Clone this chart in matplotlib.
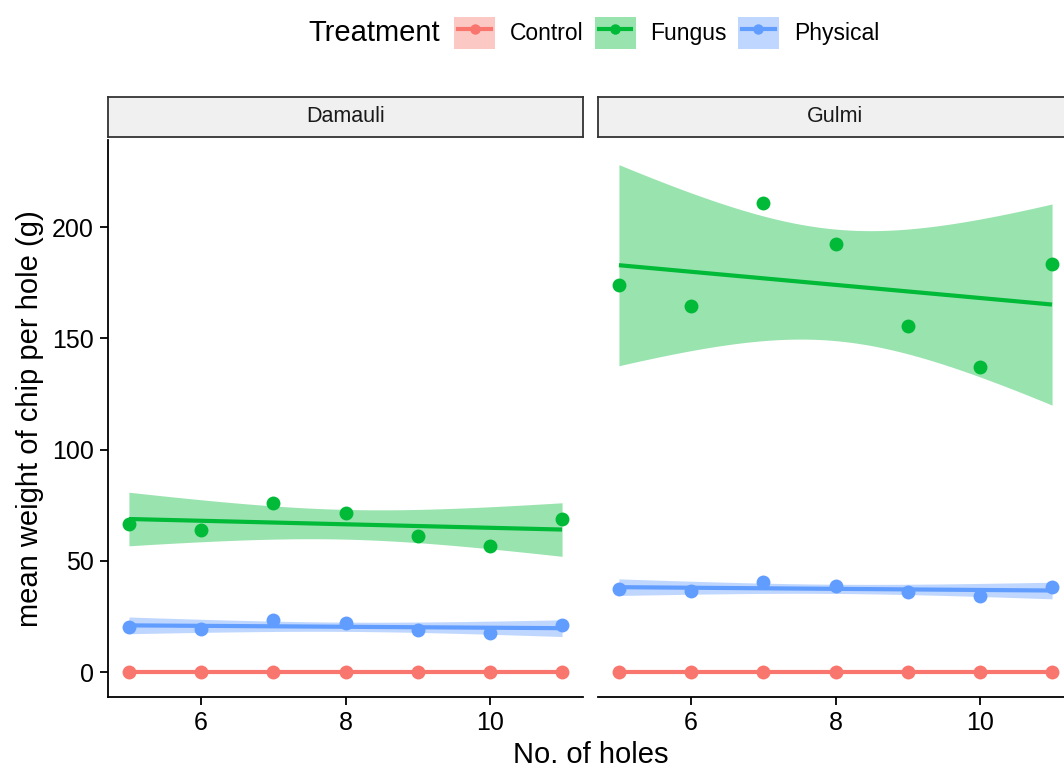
import numpy as np
import matplotlib
matplotlib.use("Agg")
import matplotlib.pyplot as plt
from matplotlib.patches import Patch
from matplotlib.lines import Line2D
from matplotlib.legend_handler import HandlerTuple, HandlerLine2D

plt.rcParams['font.family'] = ['Liberation Sans', 'DejaVu Sans']

# ---- data ----
holes = [5, 6, 7, 8, 9, 10, 11]
sites = ["Damauli", "Gulmi"]
treatments = ["Control", "Fungus", "Physical"]
colors = {"Control": "#F8766D", "Fungus": "#00BA38", "Physical": "#619CFF"}

damauli_control = [0, 0, 0, 0, 0, 0, 0]
damauli_fungus = [66.5, 63.9, 76.2, 71.4, 61.3, 56.7, 68.9]
damauli_physical = [20.4, 19.3, 23.4, 21.9, 18.9, 17.4, 21.2]

gulmi_control = [0, 0, 0, 0, 0, 0, 0]
gulmi_fungus = [173.9, 164.7, 210.9, 192.5, 155.7, 137.1, 183.2]
gulmi_physical = [37.4, 36.6, 40.6, 38.8, 35.9, 34.4, 38.1]

data = {
    "Damauli": {"Control": damauli_control, "Fungus": damauli_fungus, "Physical": damauli_physical},
    "Gulmi": {"Control": gulmi_control, "Fungus": gulmi_fungus, "Physical": gulmi_physical},
}

x_ticks = [6, 8, 10]
y_ticks = [0, 50, 100, 150, 200]
T975_DF5 = 2.570582  # t quantile, 95% CI, n-2 = 5 df


def lm_fit(x, y):
    x = np.asarray(x, float)
    y = np.asarray(y, float)
    n = len(x)
    b, a = np.polyfit(x, y, 1)
    resid = y - (a + b * x)
    s = np.sqrt(np.sum(resid ** 2) / (n - 2))
    xs = np.linspace(x.min(), x.max(), 80)
    fit = a + b * xs
    sxx = np.sum((x - x.mean()) ** 2)
    se = s * np.sqrt(1.0 / n + (xs - x.mean()) ** 2 / sxx)
    return xs, fit, fit - T975_DF5 * se, fit + T975_DF5 * se


class InsetLine(HandlerLine2D):
    def create_artists(self, legend, orig_handle, xdescent, ydescent, width, height,
                       fontsize, trans):
        inset = width * 0.1
        return super().create_artists(legend, orig_handle, xdescent - inset, ydescent,
                                      width - 2 * inset, height, fontsize, trans)


W, H = 1064, 767
fig = plt.figure(figsize=(W / 100, H / 100), dpi=100)

panel_top, panel_bot = 140, 697
panel_lefts = [108, 598]
panel_w = 475
ylim = (-11.2, 239.1)
xlim = (4.71, 11.29)
LW = 3.0

for i, site in enumerate(sites):
    l = panel_lefts[i]
    ax = fig.add_axes([l / W, (H - panel_bot) / H, panel_w / W, (panel_bot - panel_top) / H])
    for t in treatments:
        y = data[site][t]
        c = colors[t]
        xs, fit, lo, hi = lm_fit(holes, y)
        ax.fill_between(xs, lo, hi, color=c, alpha=0.4, lw=0, zorder=1)
        ax.plot(xs, fit, color=c, lw=LW, zorder=2, solid_capstyle='butt')
        ax.plot(holes, y, 'o', color=c, ms=10, mew=0, zorder=3)
    ax.set_xlim(*xlim)
    ax.set_ylim(*ylim)
    ax.set_xticks(x_ticks)
    ax.set_yticks(y_ticks)
    for sp in ["top", "right"]:
        ax.spines[sp].set_visible(False)
    ax.spines["bottom"].set_linewidth(1.3)
    ax.spines["left"].set_linewidth(1.3)
    ax.tick_params(axis='both', direction='out', length=6, width=1.3, colors='black',
                   labelsize=18, pad=4)
    if i == 1:
        ax.spines["left"].set_visible(False)
        ax.tick_params(axis='y', left=False, labelleft=False)
    else:
        ax.set_ylabel("mean weight of chip per hole (g)", fontsize=21, labelpad=6)
    # strip
    strip_top, strip_bot = 97, 137
    sax = fig.add_axes([l / W, (H - strip_bot) / H, panel_w / W, (strip_bot - strip_top) / H])
    sax.set_xticks([])
    sax.set_yticks([])
    sax.set_facecolor("#F0F0F0")
    for sp in sax.spines.values():
        sp.set_linewidth(1.3)
        sp.set_color("#333333")
    sax.text(0.5, 0.5, site, ha='center', va='center', fontsize=15.5, color='#1A1A1A',
             transform=sax.transAxes)

fig.text(591 / W, 1 - 755 / H, "No. of holes", ha='center', va='center', fontsize=21)

# legend
fig.text(308 / W, 1 - 33 / H, "Treatment", ha='left', va='center', fontsize=21)
handles = []
for t in treatments:
    c = colors[t]
    handles.append((Patch(facecolor=c, alpha=0.4, lw=0),
                    Line2D([], [], color=c, lw=LW, marker='o', ms=7.5, mew=0)))
leg = fig.legend(handles, treatments,
                 handler_map={tuple: HandlerTuple(ndivide=1, pad=0), Line2D: InsetLine()},
                 loc='center left', bbox_to_anchor=(454 / W, 1 - 33 / H), ncol=3,
                 frameon=False, fontsize=16.5, handlelength=1.79, handleheight=1.79,
                 handletextpad=0.65, columnspacing=0.48, borderpad=0, borderaxespad=0)

fig.savefig("out.png", dpi=100)
